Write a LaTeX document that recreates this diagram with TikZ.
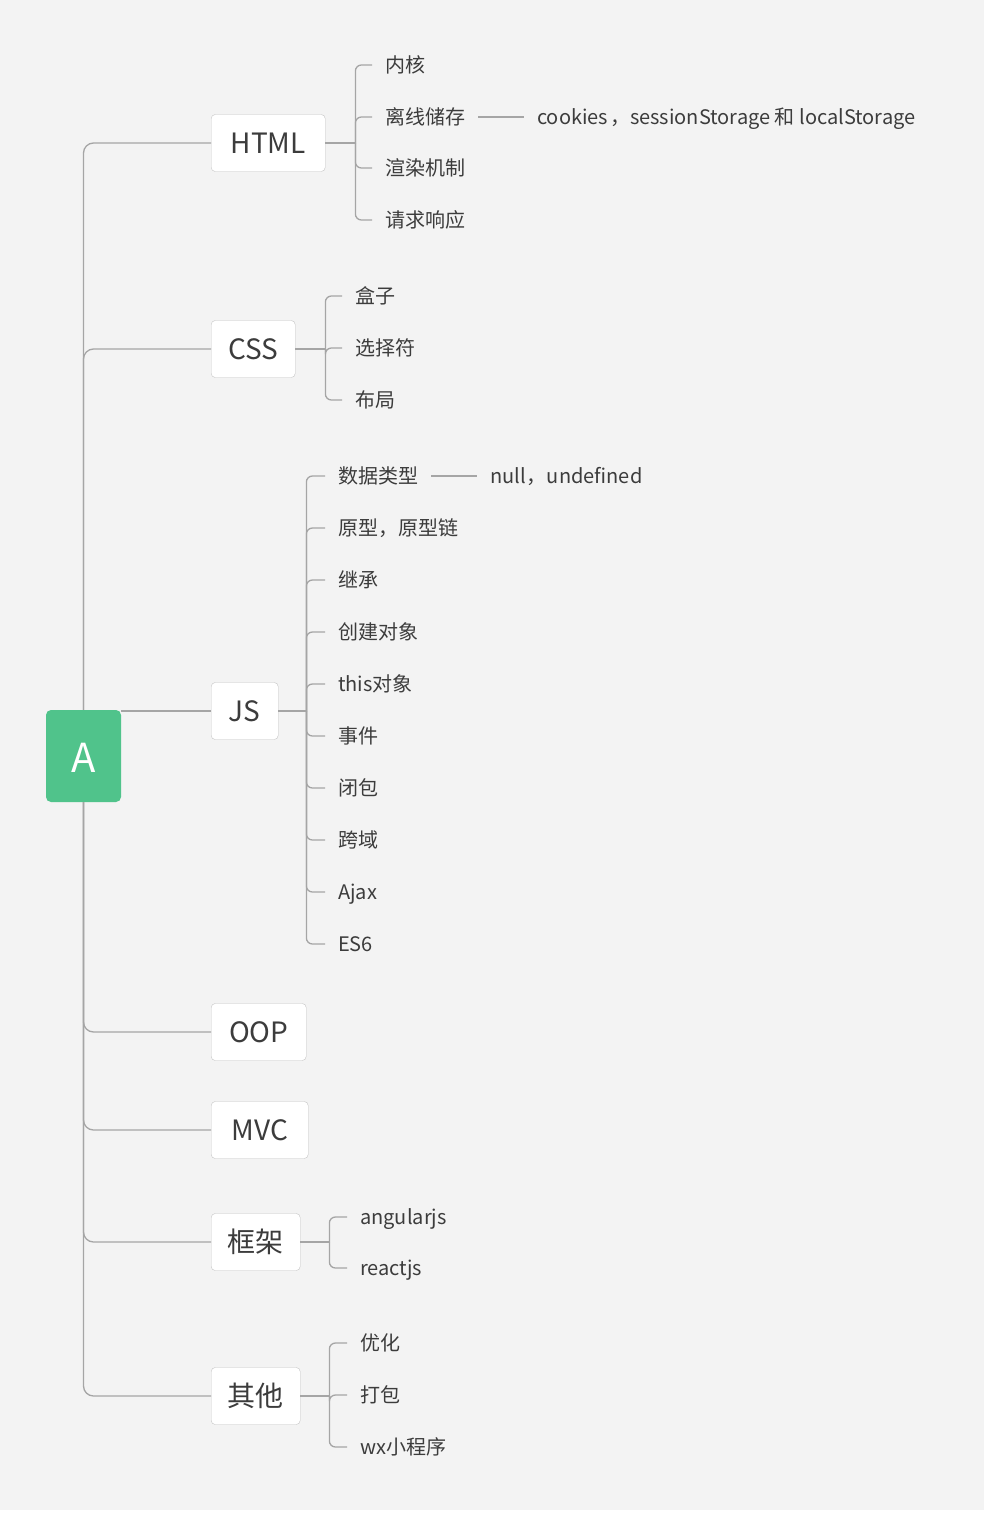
\documentclass[tikz,border=0pt]{standalone}
\usepackage{fontspec}
\setmainfont{Noto Sans CJK SC}
\definecolor{bggray}{RGB}{243,243,243}
\definecolor{linegray}{RGB}{165,165,165}
\definecolor{boxline}{RGB}{196,196,196}
\definecolor{txt}{RGB}{60,60,60}
\definecolor{rootgreen}{RGB}{80,195,139}
\tikzset{
  topic/.style={draw=boxline, fill=white, rounded corners=4pt, minimum height=57pt, inner sep=0pt, font=\fontsize{28}{30}\selectfont, text=txt, anchor=west},
  leaf/.style={inner xsep=13pt, inner ysep=0pt, text height=18pt, text depth=3pt, font=\fontsize{20}{22}\selectfont, text=txt, anchor=west},
  link/.style={draw=linegray, line width=1.3pt, rounded corners=10pt},
  twig/.style={draw=linegray, line width=1.3pt, rounded corners=6pt}
}
\begin{document}
\begin{tikzpicture}[x=1pt,y=-1pt]
  \pgfmathsetmacro{\L}{211}
  % background
  \fill[white] (0,0) rectangle (990,1520);
  \fill[bggray] (0,0) rectangle (984,1510);

  % root
  \node[fill=rootgreen, rounded corners=5pt, minimum width=75pt, minimum height=92pt, inner sep=0pt, text height=33pt, text depth=0pt, text=white, font=\fontsize{40}{44}\selectfont] (root) at (83.5,756) {A};

  % main topics
  \node[topic, minimum width=114pt] (html) at (\L,143) {HTML};
  \node[topic, minimum width=84pt] (css) at (\L,349) {CSS};
  \node[topic, minimum width=67pt] (js) at (\L,711) {JS};
  \node[topic, minimum width=95pt] (oop) at (\L,1032) {OOP};
  \node[topic, minimum width=97pt] (mvc) at (\L,1130) {MVC};
  \node[topic, minimum width=89pt] (frame) at (\L,1242) {框架};
  \node[topic, minimum width=89pt] (other) at (\L,1396) {其他};

  % trunk
  \draw[link] (root.north) |- (html.west);
  \draw[link] (root.north) |- (css.west);
  \draw[link] (root.east |- js.west) -- (js.west);
  \draw[link] (root.south) |- (oop.west);
  \draw[link] (root.south) |- (mvc.west);
  \draw[link] (root.south) |- (frame.west);
  \draw[link] (root.south) |- (other.west);

  % HTML
  \node[leaf] (h1) at (372,65) {内核};
  \node[leaf] (h2) at (372,117) {离线储存};
  \node[leaf] (h3) at (372,168) {渲染机制};
  \node[leaf] (h4) at (372,220) {请求响应};
  \node[leaf] (h2a) at (524,117) {cookies\hspace{2pt}，sessionStorage 和 localStorage};
  \draw[twig] (html.east) -- ++(30,0) coordinate (hb);
  \foreach \c in {h1,h2,h3,h4} \draw[twig] (hb) |- (\c.west);
  \draw[twig] (h2.east) -- (h2a.west);

  % CSS
  \node[leaf] (c1) at (342,296) {盒子};
  \node[leaf] (c2) at (342,348) {选择符};
  \node[leaf] (c3) at (342,400) {布局};
  \draw[twig] (css.east) -- ++(30,0) coordinate (cb);
  \foreach \c in {c1,c2,c3} \draw[twig] (cb) |- (\c.west);

  % JS
  \node[leaf] (j1) at (325,476) {数据类型};
  \node[leaf] (j2) at (325,528) {原型，原型链};
  \node[leaf] (j3) at (325,580) {继承};
  \node[leaf] (j4) at (325,632) {创建对象};
  \node[leaf] (j5) at (325,684) {this对象};
  \node[leaf] (j6) at (325,736) {事件};
  \node[leaf] (j7) at (325,788) {闭包};
  \node[leaf] (j8) at (325,840) {跨域};
  \node[leaf] (j9) at (325,892) {Ajax};
  \node[leaf] (j10) at (325,944) {ES6};
  \node[leaf] (j1a) at (477,476) {null\hspace{1pt}，undefined};
  \draw[twig] (js.east) -- ++(28,0) coordinate (jb);
  \foreach \c in {j1,j2,j3,j4,j5,j6,j7,j8,j9,j10} \draw[twig] (jb) |- (\c.west);
  \draw[twig] (j1.east) -- (j1a.west);

  % frameworks
  \node[leaf] (f1) at (347,1217) {angularjs};
  \node[leaf] (f2) at (347,1268) {reactjs};
  \draw[twig] (frame.east) -- ++(29,0) coordinate (fb);
  \foreach \c in {f1,f2} \draw[twig] (fb) |- (\c.west);

  % other
  \node[leaf] (o1) at (347,1343) {优化};
  \node[leaf] (o2) at (347,1395) {打包};
  \node[leaf] (o3) at (347,1447) {wx小程序};
  \draw[twig] (other.east) -- ++(29,0) coordinate (ob);
  \foreach \c in {o1,o2,o3} \draw[twig] (ob) |- (\c.west);
\end{tikzpicture}
\end{document}
